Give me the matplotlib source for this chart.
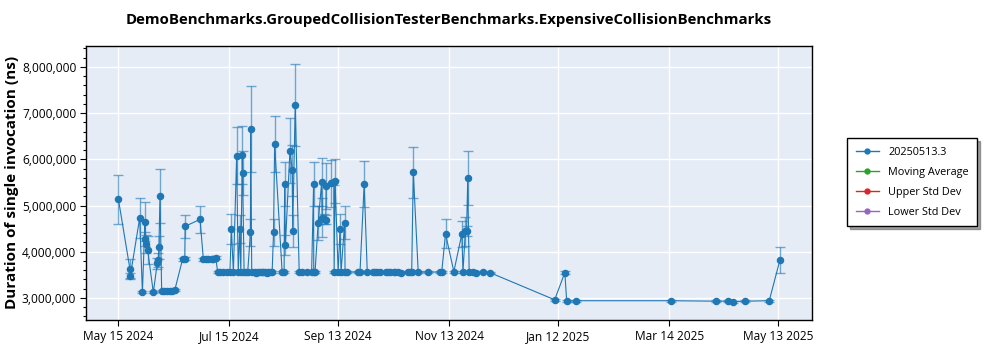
"""Benchmark duration over time with std-dev error bars."""

import matplotlib
matplotlib.use("Agg")

import matplotlib.dates as mdates
import matplotlib.pyplot as plt
import numpy as np
import pandas as pd
from matplotlib.lines import Line2D
from matplotlib.ticker import FuncFormatter, MultipleLocator

plt.rcParams["font.family"] = ["Open Sans", "DejaVu Sans"]

TITLE = "DemoBenchmarks.GroupedCollisionTesterBenchmarks.ExpensiveCollisionBenchmarks"
YLABEL = "Duration of single invocation (ns)"
SERIES_NAME = "20250513.3"
EXTRA_SERIES = ["Moving Average", "Upper Std Dev", "Lower Std Dev"]
EXTRA_COLORS = ["#2ca02c", "#d62728", "#9467bd"]

# run timestamp, mean (millions of ns), std dev (millions of ns)
run_dates = [
    "2024-05-15 05:00", "2024-05-21 14:00", "2024-05-21 19:00", "2024-05-26 22:00",
    "2024-05-28 10:00", "2024-05-29 19:00", "2024-05-30 00:00", "2024-05-30 07:00",
    "2024-05-31 07:00", "2024-06-03 10:00", "2024-06-05 14:00", "2024-06-06 02:00",
    "2024-06-06 12:00", "2024-06-07 02:00", "2024-06-08 00:00", "2024-06-09 07:00",
    "2024-06-10 22:00", "2024-06-12 14:00", "2024-06-13 19:00", "2024-06-15 05:00",
    "2024-06-19 12:00", "2024-06-20 17:00", "2024-06-20 22:00", "2024-06-29 02:00",
    "2024-06-30 22:00", "2024-07-02 05:00", "2024-07-03 12:00", "2024-07-05 12:00",
    "2024-07-06 10:00", "2024-07-07 17:00", "2024-07-08 19:00", "2024-07-10 00:00",
    "2024-07-11 22:00", "2024-07-13 17:00", "2024-07-15 12:00", "2024-07-16 07:00",
    "2024-07-17 10:00", "2024-07-19 05:00", "2024-07-20 02:00", "2024-07-20 22:00",
    "2024-07-21 12:00", "2024-07-22 07:00", "2024-07-22 12:00", "2024-07-23 07:00",
    "2024-07-24 05:00", "2024-07-25 07:00", "2024-07-26 19:00", "2024-07-26 22:00",
    "2024-07-27 12:00", "2024-07-29 05:00", "2024-07-30 02:00", "2024-07-31 00:00",
    "2024-08-01 00:00", "2024-08-02 00:00", "2024-08-02 22:00", "2024-08-03 19:00",
    "2024-08-04 17:00", "2024-08-05 14:00", "2024-08-06 12:00", "2024-08-07 17:00",
    "2024-08-08 12:00", "2024-08-09 02:00", "2024-08-13 05:00", "2024-08-14 07:00",
    "2024-08-14 14:00", "2024-08-15 00:00", "2024-08-17 12:00", "2024-08-18 19:00",
    "2024-08-19 00:00", "2024-08-20 10:00", "2024-08-22 14:00", "2024-08-23 22:00",
    "2024-08-26 17:00", "2024-08-29 10:00", "2024-08-30 12:00", "2024-08-30 14:00",
    "2024-08-31 07:00", "2024-09-02 00:00", "2024-09-03 22:00", "2024-09-04 05:00",
    "2024-09-05 05:00", "2024-09-06 05:00", "2024-09-06 10:00", "2024-09-09 00:00",
    "2024-09-10 14:00", "2024-09-10 19:00", "2024-09-11 07:00", "2024-09-13 00:00",
    "2024-09-14 00:00", "2024-09-14 14:00", "2024-09-16 14:00", "2024-09-16 19:00",
    "2024-09-17 17:00", "2024-09-24 00:00", "2024-09-25 00:00", "2024-09-27 07:00",
    "2024-09-29 00:00", "2024-10-02 00:00", "2024-10-03 07:00", "2024-10-04 14:00",
    "2024-10-06 00:00", "2024-10-09 07:00", "2024-10-10 14:00", "2024-10-11 12:00",
    "2024-10-13 10:00", "2024-10-14 07:00", "2024-10-16 02:00", "2024-10-17 10:00",
    "2024-10-21 14:00", "2024-10-22 12:00", "2024-10-23 10:00", "2024-10-24 07:00",
    "2024-10-27 00:00", "2024-11-01 12:00", "2024-11-08 00:00", "2024-11-08 22:00",
    "2024-11-11 00:00", "2024-11-15 14:00", "2024-11-20 00:00", "2024-11-20 14:00",
    "2024-11-21 22:00", "2024-11-22 14:00", "2024-11-23 05:00", "2024-11-24 00:00",
    "2024-11-26 05:00", "2024-11-28 00:00", "2024-12-01 19:00", "2024-12-05 07:00",
    "2025-01-10 00:00", "2025-01-15 14:00", "2025-01-16 14:00", "2025-01-21 17:00",
    "2025-03-14 17:00", "2025-04-08 14:00", "2025-04-15 10:00", "2025-04-17 19:00",
    "2025-04-24 14:00", "2025-05-07 22:00", "2025-05-13 19:00",
]

mean_ms = [
    5.14, 3.62, 3.48, 4.73,
    3.12, 4.65, 4.27, 4.17,
    4.04, 3.12, 3.75, 3.82,
    4.10, 5.20, 3.15, 3.15,
    3.16, 3.16, 3.15, 3.17,
    3.84, 3.85, 4.55, 4.70,
    3.84, 3.84, 3.84, 3.84,
    3.84, 3.87, 3.56, 3.56,
    3.56, 3.56, 3.56, 4.49,
    3.56, 6.08, 3.56, 4.49,
    3.56, 6.10, 5.70, 3.56,
    3.56, 3.56, 4.42, 6.65,
    3.56, 3.56, 3.55, 3.56,
    3.56, 3.57, 3.56, 3.56,
    3.55, 3.56, 3.56, 3.56,
    4.42, 6.33, 3.56, 3.56,
    5.47, 4.14, 6.19, 5.76,
    4.45, 7.17, 3.56, 3.56,
    3.56, 3.56, 5.47, 3.56,
    3.56, 4.62, 5.50, 4.74,
    4.71, 4.69, 5.43, 5.48,
    5.50, 3.56, 5.53, 3.56,
    4.49, 3.56, 4.63, 3.56,
    3.56, 3.56, 3.56, 5.46,
    3.56, 3.56, 3.57, 3.56,
    3.57, 3.56, 3.56, 3.57,
    3.56, 3.56, 3.56, 3.55,
    3.56, 3.56, 3.56, 5.72,
    3.56, 3.56, 3.56, 3.56,
    4.39, 3.57, 4.39, 3.56,
    4.44, 4.45, 5.59, 3.56,
    3.56, 3.55, 3.56, 3.55,
    2.96, 3.55, 2.93, 2.94,
    2.94, 2.93, 2.93, 2.92,
    2.93, 2.94, 3.82,
]

std_ms = [
    0.53, 0.22, 0.05, 0.43,
    0.02, 0.42, 0.15, 0.20,
    0.30, 0.02, 0.12, 0.15,
    0.25, 0.58, 0.02, 0.02,
    0.02, 0.02, 0.02, 0.02,
    0.03, 0.03, 0.25, 0.30,
    0.03, 0.03, 0.03, 0.03,
    0.03, 0.03, 0.02, 0.02,
    0.02, 0.02, 0.02, 0.32,
    0.02, 0.61, 0.02, 0.30,
    0.02, 0.63, 0.48, 0.02,
    0.02, 0.02, 0.29, 0.93,
    0.02, 0.02, 0.02, 0.02,
    0.02, 0.02, 0.02, 0.02,
    0.02, 0.02, 0.02, 0.02,
    0.29, 0.60, 0.02, 0.02,
    0.48, 0.22, 0.71, 0.55,
    0.35, 0.89, 0.02, 0.02,
    0.02, 0.02, 0.48, 0.02,
    0.02, 0.37, 0.52, 0.42,
    0.10, 0.10, 0.50, 0.51,
    0.05, 0.02, 0.48, 0.02,
    0.33, 0.02, 0.36, 0.02,
    0.02, 0.02, 0.02, 0.50,
    0.02, 0.02, 0.02, 0.02,
    0.02, 0.02, 0.02, 0.02,
    0.02, 0.02, 0.02, 0.02,
    0.02, 0.02, 0.02, 0.55,
    0.02, 0.02, 0.02, 0.02,
    0.31, 0.02, 0.28, 0.02,
    0.32, 0.10, 0.58, 0.02,
    0.02, 0.02, 0.02, 0.02,
    0.02, 0.03, 0.02, 0.02,
    0.02, 0.02, 0.02, 0.02,
    0.02, 0.02, 0.29,
]

tick_dates = ["2024-05-15", "2024-07-15", "2024-09-13", "2024-11-13",
              "2025-01-12", "2025-03-14", "2025-05-13"]
x_range = ["2024-04-27 10:00", "2025-05-31 10:00"]
y_range = [2.525e6, 8.455e6]

BLUE = "#1f77b4"
BG = "#e5ecf6"


def main() -> None:
    x = pd.to_datetime(run_dates)
    y = np.array(mean_ms) * 1e6
    err = np.array(std_ms) * 1e6

    fig = plt.figure(figsize=(10, 3.5), dpi=100)
    ax = fig.add_axes([0.086, 0.086, 0.726, 0.783])
    ax.set_facecolor(BG)

    ax.errorbar(x, y, yerr=err, fmt="none", ecolor=BLUE, alpha=0.6,
                elinewidth=1.0, capsize=3.5, capthick=1.0, zorder=2)
    ax.plot(x, y, "-o", color=BLUE, lw=0.8, ms=4.4, zorder=3)

    ax.set_xlim(pd.to_datetime(x_range))
    ax.set_ylim(y_range)
    ax.set_xticks(pd.to_datetime(tick_dates))
    ax.xaxis.set_major_formatter(mdates.DateFormatter("%b %d %Y"))
    ax.yaxis.set_major_locator(MultipleLocator(1e6))
    ax.yaxis.set_minor_locator(MultipleLocator(2e5))
    ax.yaxis.set_major_formatter(FuncFormatter(lambda v, _: f"{v:,.0f}"))
    ax.tick_params(labelsize=8.6, length=4, width=0.8, colors="black", pad=3)
    ax.tick_params(axis="y", which="minor", length=2.2, width=0.8)
    ax.grid(True, which="major", color="white", lw=1.0)
    ax.set_axisbelow(True)
    for sp in ax.spines.values():
        sp.set_linewidth(1.0)

    ax.set_title(TITLE, fontsize=10.8, fontweight="bold", pad=16)
    ax.set_ylabel(YLABEL, fontsize=11, fontweight="bold", labelpad=2)

    handles = [Line2D([], [], color=BLUE, marker="o", ms=3.5, lw=1.0, label=SERIES_NAME)]
    for name, col in zip(EXTRA_SERIES, EXTRA_COLORS):
        handles.append(Line2D([], [], color=col, marker="o", ms=3.5, lw=1.0, label=name))
    leg = fig.legend(handles=handles, loc="center left", bbox_to_anchor=(0.842, 0.479),
                     fontsize=7.8, frameon=True, fancybox=False, shadow=True,
                     edgecolor="black", handlelength=2.2, borderpad=0.75,
                     labelspacing=0.85)
    leg.get_frame().set_linewidth(1.0)

    fig.savefig("out.png", dpi=100)
    plt.close(fig)


if __name__ == "__main__":
    main()
